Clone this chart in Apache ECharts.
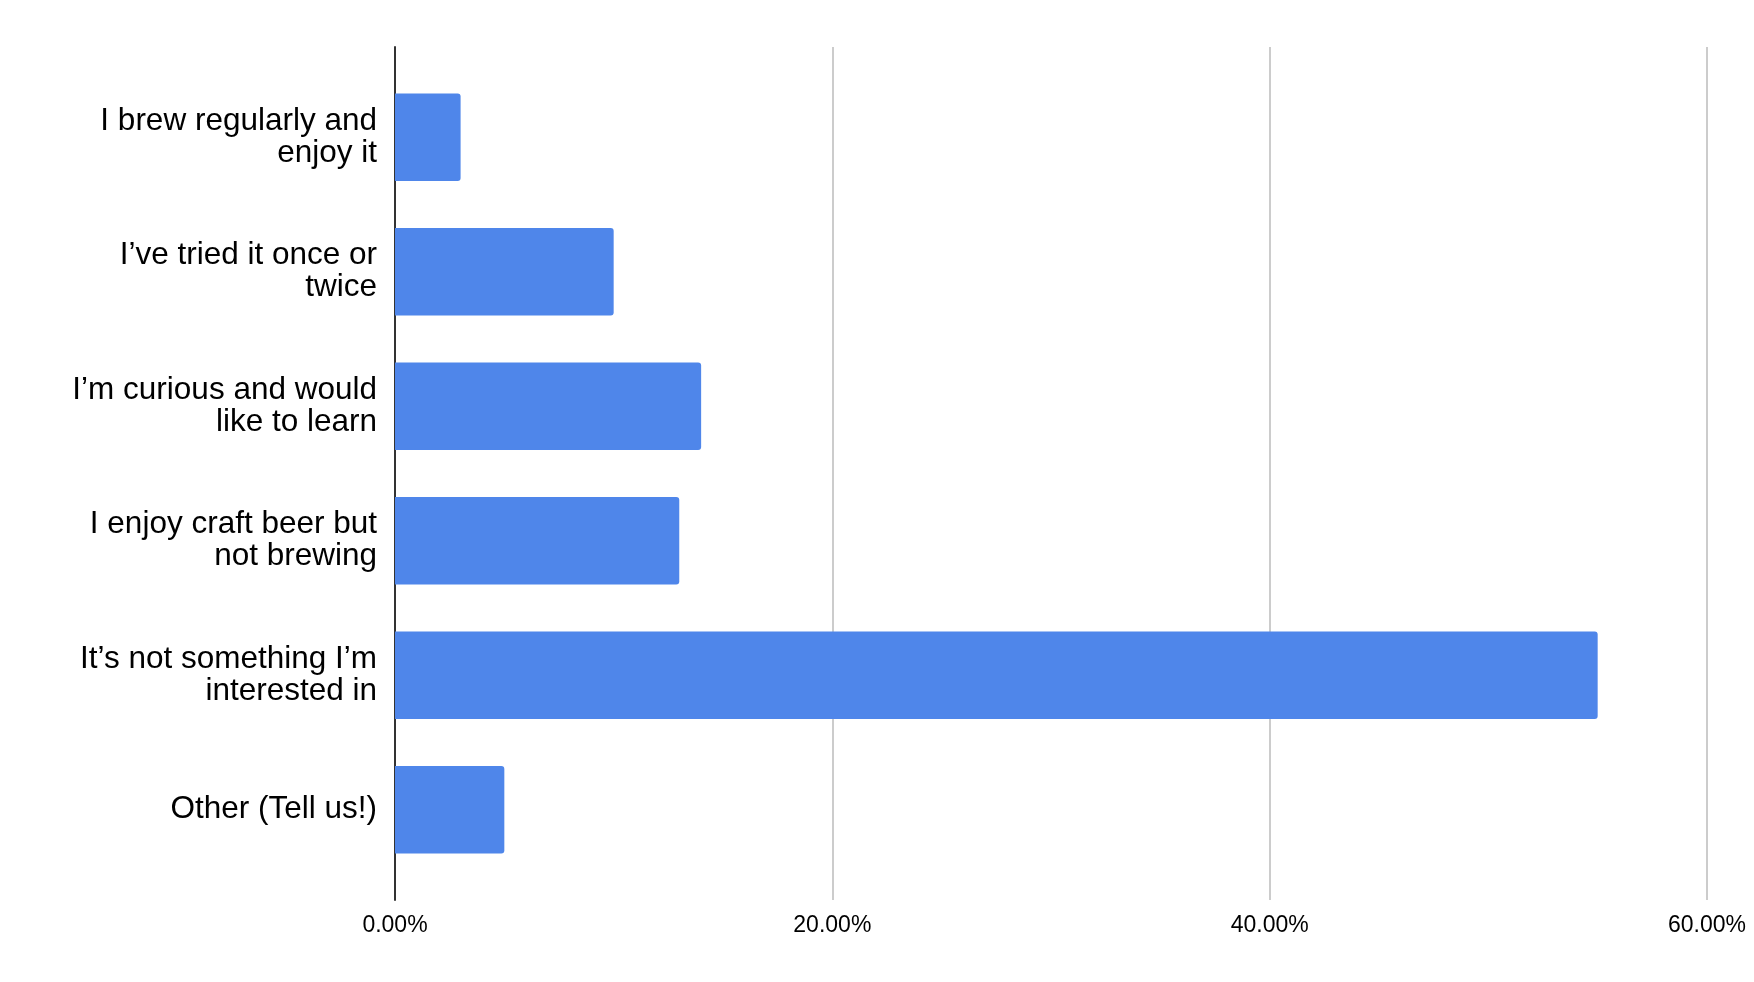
<!DOCTYPE html>
<html>
<head>
<meta charset="utf-8">
<script src="https://cdn.jsdelivr.net/npm/echarts@6/dist/echarts.min.js"></script>
<style>
html,body{margin:0;padding:0;background:#fff;}
#chart{width:1754px;height:982px;}
</style>
</head>
<body>
<div id="chart"></div>
<script>
const categories = [
  "I brew regularly and\nenjoy it",
  "I\u2019ve tried it once or\ntwice",
  "I\u2019m curious and would\nlike to learn",
  "I enjoy craft beer but\nnot brewing",
  "It\u2019s not something I\u2019m\ninterested in",
  "Other (Tell us!)"
];
const shares = [3, 10, 14, 13, 55, 5];
const tickMin = 0, tickMax = 60, tickStep = 20;

const FONT = 'Liberation Sans';
const chart = echarts.init(document.getElementById('chart'));
chart.setOption({
  animation: false,
  backgroundColor: '#ffffff',
  grid: [
    { left: 395, right: 47, top: 47, bottom: 82 },
    { left: 395, right: 47, top: 70, bottom: 105 }
  ],
  xAxis: [
    {
      gridIndex: 0, type: 'value',
      min: tickMin, max: tickMax, interval: tickStep,
      axisLine: { show: false },
      axisTick: { show: false },
      splitLine: { show: true, lineStyle: { color: '#cccccc', width: 2 } },
      axisLabel: {
        formatter: v => v.toFixed(2) + '%',
        fontFamily: FONT, fontSize: 23, color: '#000', margin: 14
      }
    },
    {
      gridIndex: 1, type: 'value',
      min: tickMin, max: tickMax, interval: tickStep,
      show: false
    }
  ],
  yAxis: [
    {
      gridIndex: 0, type: 'value', min: 0, max: 1,
      axisLine: { show: true, onZero: false, lineStyle: { color: '#333333', width: 2 } },
      axisTick: { show: false }, axisLabel: { show: false }, splitLine: { show: false }
    },
    {
      gridIndex: 1, type: 'category',
      inverse: true,
      data: categories,
      axisLine: { show: false },
      axisTick: { show: false },
      axisLabel: {
        fontFamily: FONT, fontSize: 31.5, color: '#000', margin: 18,
        lineHeight: 32, align: 'right'
      }
    }
  ],
  series: [{
    type: 'bar',
    xAxisIndex: 1, yAxisIndex: 1,
    data: shares,
    barCategoryGap: '35%',
    z: 1,
    itemStyle: { color: '#4f86ea', borderRadius: [0, 3, 3, 0] }
  }]
});
</script>
</body>
</html>
